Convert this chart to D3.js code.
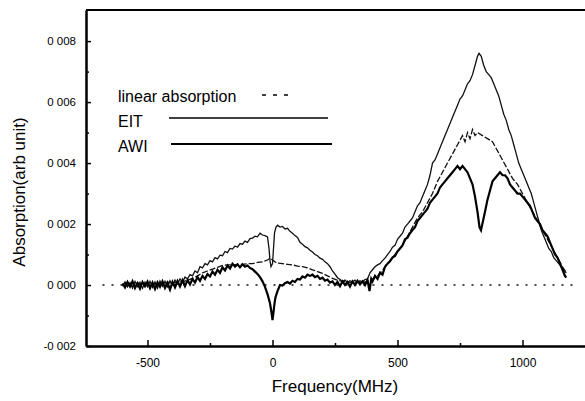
<!DOCTYPE html>
<html>
<head>
<meta charset="utf-8">
<script src="https://cdnjs.cloudflare.com/ajax/libs/d3/7.8.5/d3.min.js"></script>
<style>
    body { margin: 0; background: #fff; }
    svg { display: block; font-family: "Liberation Sans", Arial, sans-serif; }
</style>
</head>
<body>
<div id="chart"></div>
<script>
// frequency (MHz), absorption (arb unit)
var eitData = [
    [-600, -0.00004], [-590, 0.0001], [-580, -0.00006], [-570, 0.00008], [-560, -0.0001], [-550, 0.00012],
    [-540, -0.00005], [-530, 0.00009], [-520, -0.00011], [-510, 0.0001], [-500, -0.00006], [-490, 0.00012],
    [-480, -0.00008], [-470, 0.0001], [-460, -0.0001], [-450, 0.00013], [-440, -0.00004], [-430, 0.00012],
    [-420, -0.00006], [-410, 0.00014], [-400, 0.0], [-390, 0.00016], [-380, 0.00004], [-370, 0.0002],
    [-360, 0.0001], [-350, 0.00026], [-340, 0.0002], [-330, 0.00034], [-320, 0.0003], [-310, 0.00046],
    [-300, 0.0004], [-290, 0.0006], [-280, 0.00056], [-270, 0.0007], [-260, 0.00066], [-250, 0.0008],
    [-240, 0.00076], [-230, 0.0009], [-220, 0.00086], [-210, 0.00098], [-200, 0.00096], [-190, 0.0011],
    [-180, 0.00106], [-170, 0.0012], [-160, 0.00118], [-150, 0.00128], [-140, 0.00124], [-130, 0.00136],
    [-120, 0.00134], [-110, 0.00144], [-100, 0.0014], [-90, 0.00152], [-80, 0.00154], [-70, 0.0016],
    [-60, 0.00158], [-50, 0.0017], [-40, 0.00164], [-30, 0.00162], [-20, 0.00158], [-14, 0.0012],
    [-10, 0.0008], [-6, 0.0006], [0, 0.0007], [4, 0.0012], [8, 0.0017], [14, 0.0019], [20, 0.00196],
    [30, 0.0019], [40, 0.00192], [50, 0.00184], [60, 0.00186], [70, 0.00176], [80, 0.0017], [90, 0.00162],
    [100, 0.00156], [110, 0.0014], [120, 0.00134], [130, 0.00126], [140, 0.00122], [150, 0.00114],
    [160, 0.00108], [170, 0.001], [180, 0.00096], [190, 0.00088], [200, 0.00084], [210, 0.00076],
    [220, 0.0007], [230, 0.0006], [240, 0.00046], [250, 0.00036], [260, 0.00024], [270, 0.00018],
    [280, 0.00012], [290, 0.00016], [300, 0.00008], [310, 0.00014], [320, 0.0001], [330, 0.00016],
    [340, 0.00008], [350, 0.00014], [360, 0.0001], [370, 0.00018], [380, 0.0002], [390, 0.0004],
    [400, 0.0005], [410, 0.0006], [420, 0.00066], [430, 0.0007], [440, 0.0008], [450, 0.00088],
    [460, 0.001], [470, 0.0011], [480, 0.00124], [490, 0.0013], [500, 0.0015], [510, 0.0016],
    [520, 0.0017], [530, 0.0019], [540, 0.002], [550, 0.0021], [560, 0.0022], [570, 0.0024],
    [580, 0.0026], [590, 0.0027], [600, 0.0029], [610, 0.0031], [620, 0.0033], [630, 0.0036],
    [640, 0.004], [650, 0.0041], [660, 0.0043], [670, 0.0045], [680, 0.0047], [690, 0.0049],
    [700, 0.0051], [710, 0.0053], [720, 0.0055], [730, 0.0057], [740, 0.0059], [750, 0.0061],
    [760, 0.0062], [770, 0.0064], [780, 0.0066], [790, 0.0067], [800, 0.0069], [810, 0.0072],
    [820, 0.0075], [826, 0.0076], [835, 0.0075], [845, 0.0072], [855, 0.007], [865, 0.0069],
    [875, 0.0068], [885, 0.0066], [895, 0.0064], [905, 0.0062], [915, 0.0059], [925, 0.0056],
    [935, 0.0054], [945, 0.0051], [955, 0.0049], [965, 0.0046], [975, 0.0043], [985, 0.004],
    [995, 0.0038], [1005, 0.0036], [1015, 0.0034], [1025, 0.0032], [1035, 0.003], [1045, 0.0027],
    [1055, 0.0024], [1065, 0.0021], [1075, 0.0018], [1085, 0.0016], [1095, 0.0014], [1105, 0.0012],
    [1115, 0.0011], [1125, 0.0009], [1135, 0.0008], [1145, 0.0007], [1155, 0.0006], [1165, 0.0005],
    [1175, 0.0004]
];

var awiData = [
    [-600, 0.00005], [-590, -0.00008], [-580, 0.0001], [-570, -0.00005], [-560, 0.00012], [-550, -0.0001],
    [-540, 0.00006], [-530, -0.00012], [-520, 0.0001], [-510, -0.00004], [-500, 0.00011], [-490, -0.0001],
    [-480, 0.00008], [-470, -0.00013], [-460, 0.00009], [-450, -0.00006], [-440, 0.00012], [-430, -0.0001],
    [-420, 0.00007], [-410, -0.00015], [-400, 0.0001], [-390, -0.00008], [-380, 0.00013], [-370, -0.00005],
    [-360, 0.00015], [-350, -0.00004], [-340, 0.00016], [-330, 0.00002], [-320, 0.0002], [-310, 0.00008],
    [-300, 0.00026], [-290, 0.00014], [-280, 0.0003], [-270, 0.0002], [-260, 0.00036], [-250, 0.00028],
    [-240, 0.00044], [-230, 0.00034], [-220, 0.0005], [-210, 0.0004], [-200, 0.00058], [-190, 0.00048],
    [-180, 0.00064], [-170, 0.00054], [-160, 0.0007], [-150, 0.0006], [-140, 0.00068], [-130, 0.00058],
    [-120, 0.00068], [-110, 0.0006], [-100, 0.00064], [-90, 0.00056], [-80, 0.00052], [-70, 0.00044],
    [-60, 0.00036], [-50, 0.00026], [-40, 0.00012], [-30, -0.00006], [-20, -0.0003], [-10, -0.0006],
    [-4, -0.0009], [0, -0.00115], [4, -0.0009], [8, -0.0006], [12, -0.0004], [20, -0.0002], [30, 0.0],
    [40, -0.00002], [50, 0.00006], [60, 0.0001], [70, 0.00005], [80, 0.00014], [90, 0.0001], [100, 0.0002],
    [110, 0.00018], [120, 0.00028], [130, 0.00024], [140, 0.00034], [150, 0.0003], [160, 0.00034],
    [170, 0.00026], [180, 0.0003], [190, 0.0002], [200, 0.00024], [210, 0.00014], [220, 0.00018],
    [230, 0.00008], [240, 0.00012], [250, 0.0], [260, 0.0001], [270, -0.00004], [280, 0.00012],
    [290, 0.0], [300, 0.0001], [310, -0.00005], [320, 0.00012], [330, 0.0], [340, 0.00014], [350, 0.00002],
    [360, 0.00012], [370, 0.0], [380, 0.00016], [388, -0.0002], [395, 0.0002], [400, 0.00012],
    [410, 0.0003], [420, 0.0002], [430, 0.0004], [440, 0.00034], [450, 0.0006], [460, 0.0007],
    [470, 0.00078], [480, 0.0009], [490, 0.00095], [500, 0.0011], [510, 0.0012], [520, 0.0013],
    [530, 0.0015], [540, 0.00155], [550, 0.0017], [560, 0.0018], [570, 0.0019], [580, 0.0021],
    [590, 0.0022], [600, 0.0023], [610, 0.0024], [620, 0.0025], [630, 0.0027], [640, 0.0028],
    [650, 0.0029], [660, 0.003], [670, 0.0032], [680, 0.0033], [690, 0.0034], [700, 0.0035],
    [710, 0.0036], [720, 0.0037], [730, 0.0038], [740, 0.0039], [750, 0.0038], [760, 0.0039],
    [770, 0.0038], [780, 0.0037], [790, 0.0035], [800, 0.0033], [810, 0.0029], [820, 0.0024],
    [828, 0.0019], [834, 0.0018], [842, 0.0021], [850, 0.0024], [860, 0.0028], [870, 0.0031],
    [880, 0.0034], [890, 0.0035], [900, 0.0036], [910, 0.0037], [920, 0.0036], [930, 0.0036],
    [940, 0.0035], [950, 0.0033], [960, 0.0032], [970, 0.0031], [980, 0.003], [990, 0.003],
    [1000, 0.0029], [1010, 0.0028], [1020, 0.0027], [1030, 0.0026], [1040, 0.0024], [1050, 0.0022],
    [1060, 0.0021], [1070, 0.002], [1080, 0.0018], [1090, 0.0017], [1100, 0.0016], [1110, 0.0014],
    [1120, 0.0012], [1130, 0.001], [1140, 0.0009], [1150, 0.0007], [1160, 0.0005], [1170, 0.0003],
    [1175, 0.00024]
];

var linearData = [
    [-600, 0.00002], [-580, 0.00006], [-560, -0.00004], [-540, 0.00008], [-520, -0.00002], [-500, 0.00006],
    [-480, 0.0], [-460, 0.00008], [-440, 0.00002], [-420, 0.0001], [-400, 0.00004], [-380, 0.00012],
    [-360, 0.0001], [-340, 0.00016], [-320, 0.00022], [-300, 0.0003], [-280, 0.0004], [-260, 0.00046],
    [-240, 0.00052], [-220, 0.00058], [-200, 0.00064], [-180, 0.00066], [-160, 0.00066], [-140, 0.00068],
    [-120, 0.00068], [-100, 0.0007], [-80, 0.0007], [-60, 0.00074], [-40, 0.00076], [-20, 0.00082],
    [-10, 0.00088], [0, 0.00082], [10, 0.00076], [20, 0.00072], [40, 0.0007], [60, 0.00068],
    [80, 0.00066], [100, 0.00062], [120, 0.0006], [140, 0.00056], [160, 0.0005], [180, 0.00044],
    [200, 0.00038], [220, 0.0003], [240, 0.00022], [260, 0.00016], [280, 0.00012], [300, 0.0001],
    [320, 0.00008], [340, 0.0001], [360, 0.00008], [380, 0.00012], [400, 0.0002], [420, 0.0003],
    [440, 0.00048], [460, 0.0007], [480, 0.0009], [500, 0.0011], [520, 0.0013], [540, 0.0016],
    [560, 0.0019], [580, 0.0022], [600, 0.0024], [620, 0.0027], [640, 0.003], [660, 0.0034],
    [680, 0.0037], [700, 0.004], [720, 0.0043], [740, 0.0046], [760, 0.0049], [770, 0.0047],
    [780, 0.005], [790, 0.0048], [800, 0.0051], [810, 0.0049], [820, 0.005], [840, 0.0049],
    [860, 0.0048], [880, 0.0047], [900, 0.0044], [920, 0.0041], [940, 0.0038], [960, 0.0035],
    [980, 0.0033], [1000, 0.003], [1020, 0.0027], [1040, 0.0024], [1060, 0.0021], [1080, 0.0018],
    [1100, 0.0015], [1120, 0.0012], [1140, 0.0009], [1160, 0.0006], [1175, 0.0004]
];

var zeroLine = [[-680, 0], [1200, 0]];

var xTicks = [-500, 0, 500, 1000];
var xMinorTicks = [-250, 250, 750];
var yTicks = [-0.002, 0, 0.002, 0.004, 0.006, 0.008];
var yMinorTicks = [-0.001, 0.001, 0.003, 0.005, 0.007];

var legendLabels = ["linear absorption", "EIT", "AWI"];

var width = 585,
    height = 401;
var margin = {left: 86, top: 10, right: -2, bottom: 55};

var svg = d3.select('#chart').append('svg')
        .attr('width', width)
        .attr('height', height);
svg.append('rect')
        .attr('width', width)
        .attr('height', height)
        .style('fill', '#fff');

var x = d3.scaleLinear().domain([-746, 1258]).range([margin.left, width - margin.right]);
var y = d3.scaleLinear().domain([-0.002, 0.00902]).range([height - margin.bottom, margin.top]);

// the scan drops the decimal point: 0.008 -> "0 008"
var fmt = function (d) {
    return d.toFixed(3).replace('.', ' ');
};

var line = d3.line()
        .x(function (d) { return x(d[0]); })
        .y(function (d) { return y(d[1]); });

//Series
svg.append('path').datum(zeroLine)
        .attr('d', line)
        .style('fill', 'none').style('stroke', '#111').style('stroke-width', 1.3)
        .style('stroke-dasharray', '2,7');
svg.append('path').datum(linearData)
        .attr('d', line)
        .style('fill', 'none').style('stroke', '#111').style('stroke-width', 1.3)
        .style('stroke-dasharray', '6,2');
svg.append('path').datum(eitData)
        .attr('d', line)
        .style('fill', 'none').style('stroke', '#111').style('stroke-width', 1.3);
svg.append('path').datum(awiData)
        .attr('d', line)
        .style('fill', 'none').style('stroke', '#000').style('stroke-width', 2.2);

//Axes
var xAxis = svg.append('g').attr('transform', 'translate(0,' + (height - margin.bottom) + ')')
        .call(d3.axisBottom(x).tickValues(xTicks).tickFormat(function (d) { return String(d); })
                .tickSizeInner(-6).tickSizeOuter(0).tickPadding(12));
var xMinor = svg.append('g').attr('transform', 'translate(0,' + (height - margin.bottom) + ')')
        .call(d3.axisBottom(x).tickValues(xMinorTicks).tickSizeInner(-3).tickSizeOuter(0).tickFormat(''));
var yAxis = svg.append('g').attr('transform', 'translate(' + margin.left + ',0)')
        .call(d3.axisLeft(y).tickValues(yTicks).tickFormat(fmt).tickSizeInner(-5).tickSizeOuter(0).tickPadding(10));
var yMinor = svg.append('g').attr('transform', 'translate(' + margin.left + ',0)')
        .call(d3.axisLeft(y).tickValues(yMinorTicks).tickSizeInner(-3).tickSizeOuter(0).tickFormat(''));

svg.selectAll('.domain').style('stroke', '#000').style('stroke-width', 2);
svg.selectAll('.tick line').style('stroke', '#000').style('stroke-width', 1.5);
xAxis.selectAll('text').style('font-size', '12px').style('fill', '#000').attr('font-family', null);
yAxis.selectAll('text').style('font-size', '11.5px').style('fill', '#000').attr('font-family', null);

//top border
svg.append('line')
        .attr('x1', margin.left).attr('x2', width)
        .attr('y1', margin.top).attr('y2', margin.top)
        .style('stroke', '#000').style('stroke-width', 2);

//Titles
svg.append('text')
        .attr('x', 335).attr('y', 392)
        .attr('text-anchor', 'middle')
        .style('font-size', '17px')
        .text('Frequency(MHz)');
svg.append('text')
        .attr('transform', 'translate(25,192)rotate(-90)')
        .attr('text-anchor', 'middle')
        .style('font-size', '17px')
        .text('Absorption(arb unit)');

//Legend
var legendY = [96, 121, 146];
var legendLine = [[262, 290], [169, 328], [171, 332]];
var legendStyle = [
    {w: 1.3, dash: '4,7'},
    {w: 1.3, dash: null},
    {w: 2.2, dash: null}
];
var legend = svg.append('g');
legend.selectAll('text').data(legendLabels).enter().append('text')
        .attr('x', 118)
        .attr('y', function (d, i) { return legendY[i] + 6; })
        .style('font-size', '16px')
        .text(function (d) { return d; });
legend.selectAll('line').data(legendLabels).enter().append('line')
        .attr('x1', function (d, i) { return legendLine[i][0]; })
        .attr('x2', function (d, i) { return legendLine[i][1]; })
        .attr('y1', function (d, i) { return legendY[i] - (i == 0 ? 1 : 4 - i); })
        .attr('y2', function (d, i) { return legendY[i] - (i == 0 ? 1 : 4 - i); })
        .style('stroke', '#000')
        .style('stroke-width', function (d, i) { return legendStyle[i].w; })
        .style('stroke-dasharray', function (d, i) { return legendStyle[i].dash; });
</script>
</body>
</html>
